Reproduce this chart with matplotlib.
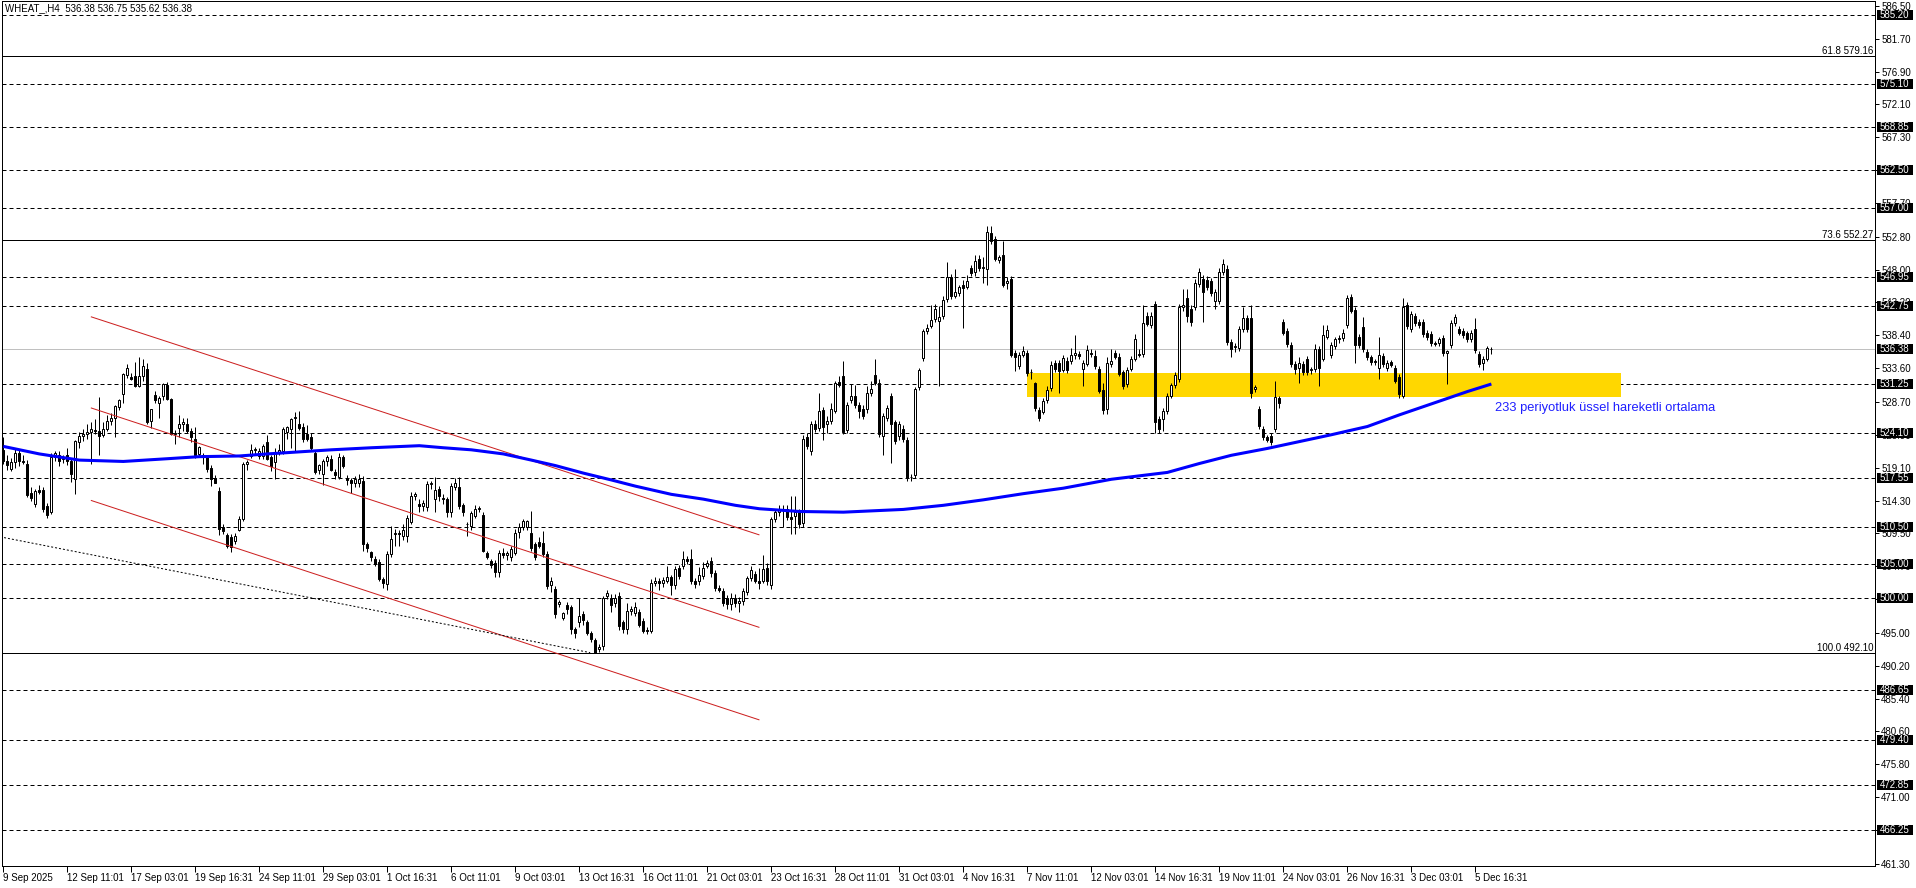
import matplotlib
matplotlib.use("Agg")
import matplotlib.pyplot as plt
import matplotlib.transforms as mtransforms
from matplotlib.patches import Rectangle
import numpy as np

plt.rcParams["font.family"] = ["Liberation Sans", "DejaVu Sans"]

# H4 candles (bar 0 = 9 Sep 2025)
OPENS = [
    521.6, 520.1, 518.9, 519.9, 521.3, 520.1, 519.6, 515.4, 513.8, 515.9,
    515.9, 513.5, 512.6, 520.6, 521.0, 520.3, 521.0, 520.0, 517.4, 522.8,
    523.7, 524.0, 524.3, 524.6, 524.5, 523.9, 524.7, 525.9, 526.4, 527.9,
    529.9, 532.6, 532.3, 532.4, 531.0, 532.4, 533.5, 525.9, 529.7, 528.6,
    529.6, 531.2, 529.1, 524.0, 524.9, 525.5, 525.5, 524.4, 523.3, 521.1,
    521.0, 520.6, 519.1, 517.6, 515.7, 510.4, 509.2, 509.0, 508.4, 510.0,
    511.6, 519.6, 520.8, 521.6, 520.8, 520.8, 522.8, 520.6, 519.9, 521.3,
    521.5, 524.3, 524.8, 526.3, 525.5, 525.0, 524.0, 523.6, 521.2, 518.7,
    518.2, 520.1, 520.3, 518.5, 517.7, 520.6, 517.6, 517.3, 516.9, 516.9,
    517.2, 508.0, 506.8, 505.7, 505.3, 502.8, 502.1, 506.5, 509.4, 509.6,
    509.1, 509.1, 511.1, 515.0, 513.8, 513.5, 513.3, 516.7, 514.5, 516.0,
    514.7, 514.5, 512.6, 516.3, 516.2, 513.6, 510.9, 510.6, 512.1, 513.1,
    512.2, 506.6, 505.4, 505.2, 503.8, 506.7, 506.4, 506.0, 506.7, 509.7,
    510.5, 510.4, 509.6, 507.9, 508.2, 508.1, 506.5, 502.0, 501.4, 499.2,
    497.2, 499.1, 498.7, 495.5, 496.6, 497.7, 496.5, 495.0, 493.9, 492.7,
    493.1, 500.3, 500.1, 499.4, 500.4, 496.5, 495.5, 498.2, 497.9, 498.0,
    496.7, 495.4, 495.3, 502.3, 502.5, 502.3, 502.6, 503.1, 501.9, 504.4,
    504.8, 505.8, 505.7, 502.6, 502.6, 503.3, 504.8, 505.5, 503.7, 501.6,
    501.1, 500.0, 499.2, 500.0, 499.3, 499.6, 501.0, 503.0, 503.6, 502.5,
    502.6, 504.5, 501.9, 511.6, 512.6, 513.1, 513.1, 511.9, 512.1, 512.6,
    511.0, 523.6, 521.5, 525.5, 524.9, 527.5, 525.5, 525.9, 527.4, 531.6,
    532.4, 524.6, 529.0, 529.5, 528.3, 527.6, 527.6, 530.0, 532.6, 531.5,
    523.7, 526.4, 529.5, 525.7, 523.7, 524.8, 523.1, 517.7, 518.0, 530.8,
    535.1, 539.0, 539.8, 540.8, 540.5, 541.2, 543.7, 546.9, 544.1, 544.6,
    545.8, 545.5, 548.2, 547.6, 549.5, 548.2, 548.1, 553.3, 552.4, 549.4,
    550.1, 546.0, 546.6, 535.9, 533.9, 535.6, 535.9, 533.1, 531.5, 527.5,
    527.2, 529.0, 530.7, 534.3, 534.3, 533.4, 534.7, 534.6, 535.5, 535.7,
    533.5, 534.2, 535.9, 535.4, 533.5, 530.5, 527.6, 534.2, 535.8, 535.3,
    533.0, 531.3, 533.5, 535.0, 535.7, 535.7, 541.3, 539.9, 543.0, 526.2,
    526.2, 527.4, 529.6, 531.1, 532.1, 542.5, 543.9, 542.3, 542.5, 545.9,
    546.7, 546.5, 546.4, 543.4, 543.4, 547.6, 548.1, 537.5, 536.7, 536.5,
    539.3, 540.9, 540.9, 530.6, 527.7, 524.8, 523.5, 523.7, 524.7, 529.2,
    540.4, 539.1, 537.0, 534.2, 533.7, 534.2, 535.0, 533.3, 533.5, 536.4,
    535.0, 538.2, 535.5, 536.8, 537.8, 538.0, 539.9, 544.0, 542.1, 538.2,
    539.6, 536.0, 535.2, 534.6, 533.7, 535.4, 533.7, 534.5, 533.7, 532.3,
    529.6, 542.9, 539.3, 541.3, 540.4, 540.4, 538.8, 538.6, 537.3, 537.3,
    538.0, 535.9, 537.0, 540.2, 539.3, 539.1, 538.7, 537.9, 539.3, 535.7,
    534.4, 535.0, 536.38,
]
HIGHS = [
    523.5, 521.0, 520.5, 522.0, 521.8, 521.0, 520.2, 516.2, 516.0, 516.5,
    516.3, 513.9, 521.3, 521.5, 521.5, 521.0, 522.0, 520.4, 523.2, 524.3,
    524.8, 525.5, 525.7, 526.2, 529.4, 525.8, 526.8, 527.0, 528.3, 529.1,
    532.9, 534.2, 532.9, 534.5, 535.2, 535.0, 534.3, 527.6, 530.3, 529.5,
    531.5, 531.6, 529.3, 524.6, 526.8, 526.4, 526.3, 524.9, 525.0, 522.3,
    521.3, 521.0, 519.5, 518.0, 516.3, 510.9, 509.6, 509.4, 509.5, 512.0,
    519.9, 520.2, 522.6, 522.1, 522.0, 522.6, 523.9, 521.0, 522.0, 522.6,
    525.0, 525.2, 526.3, 527.2, 527.3, 525.6, 525.3, 524.2, 521.6, 519.6,
    520.4, 521.0, 521.0, 518.9, 521.3, 521.0, 518.0, 517.6, 517.9, 518.2,
    517.9, 508.3, 507.0, 506.2, 505.8, 503.2, 507.0, 510.6, 510.1, 510.0,
    510.9, 512.2, 515.6, 515.5, 514.5, 514.4, 517.2, 517.2, 517.8, 516.4,
    515.2, 514.8, 516.9, 517.6, 517.7, 514.0, 511.2, 512.8, 513.6, 513.5,
    512.6, 507.0, 505.8, 505.6, 507.1, 507.3, 507.0, 507.6, 510.2, 511.0,
    511.6, 511.5, 512.8, 508.3, 509.0, 509.9, 506.9, 503.2, 501.8, 499.8,
    498.1, 499.5, 499.0, 495.8, 500.0, 498.2, 496.9, 495.3, 494.3, 493.3,
    500.3, 501.2, 500.6, 500.6, 500.9, 496.9, 499.3, 498.9, 499.5, 498.4,
    497.1, 495.8, 502.8, 503.1, 503.0, 503.2, 504.7, 503.5, 504.8, 504.9,
    506.9, 506.2, 507.2, 503.0, 504.6, 505.3, 505.6, 506.0, 504.1, 501.9,
    501.5, 500.5, 500.8, 500.6, 500.2, 501.5, 503.3, 504.8, 504.0, 504.5,
    506.3, 505.2, 511.9, 513.1, 513.6, 513.6, 513.6, 515.0, 514.9, 513.0,
    523.8, 524.1, 525.9, 526.0, 530.0, 527.9, 526.6, 528.6, 531.7, 532.4,
    534.6, 528.7, 531.3, 531.2, 528.7, 528.2, 531.0, 531.7, 534.9, 532.0,
    527.0, 528.2, 530.0, 526.1, 525.9, 525.3, 523.5, 518.1, 530.8, 533.6,
    539.3, 540.0, 542.9, 543.0, 542.7, 544.2, 549.1, 547.3, 548.1, 545.8,
    546.5, 547.2, 548.6, 550.2, 550.1, 549.9, 554.3, 554.4, 552.9, 550.2,
    552.2, 546.9, 547.0, 536.3, 536.0, 536.9, 536.3, 533.5, 531.6, 527.9,
    529.3, 531.0, 534.6, 534.8, 534.8, 535.5, 535.2, 536.6, 538.5, 536.1,
    534.8, 537.0, 536.4, 536.2, 534.0, 531.5, 535.2, 536.4, 536.2, 535.8,
    533.4, 533.8, 535.4, 538.6, 536.4, 542.8, 541.8, 541.8, 543.4, 526.7,
    527.8, 530.0, 531.5, 533.0, 543.0, 545.2, 545.2, 542.8, 546.7, 548.2,
    547.2, 547.0, 546.8, 545.2, 548.2, 549.5, 548.6, 537.9, 537.3, 539.8,
    542.6, 541.4, 542.8, 531.2, 528.1, 525.2, 523.9, 524.1, 531.8, 529.6,
    540.8, 539.5, 537.4, 534.6, 535.3, 534.6, 535.4, 533.8, 537.2, 536.8,
    539.9, 539.9, 537.4, 538.2, 538.4, 539.4, 544.3, 544.4, 542.6, 538.6,
    541.1, 536.4, 535.6, 535.0, 538.1, 535.8, 534.8, 534.8, 534.1, 532.7,
    543.9, 543.3, 541.9, 541.7, 540.8, 540.8, 539.2, 539.0, 537.6, 538.2,
    538.4, 536.3, 540.6, 541.5, 539.7, 539.5, 539.1, 539.2, 541.0, 536.1,
    535.4, 536.9, 536.75,
]
LOWS = [
    519.6, 518.8, 518.6, 519.0, 519.3, 519.6, 514.8, 514.3, 513.3, 515.2,
    512.6, 511.8, 512.3, 520.0, 519.4, 519.8, 519.5, 517.0, 515.3, 522.0,
    523.0, 523.3, 519.6, 524.0, 521.0, 523.5, 524.4, 525.3, 523.6, 527.5,
    528.5, 532.2, 531.9, 530.8, 530.8, 531.8, 525.4, 524.9, 528.6, 526.3,
    529.0, 528.9, 523.8, 522.6, 523.5, 524.5, 524.2, 522.8, 520.5, 520.6,
    519.7, 518.5, 516.4, 516.8, 509.3, 509.4, 507.3, 506.8, 508.0, 509.8,
    511.3, 518.7, 520.5, 520.9, 520.3, 520.4, 520.2, 518.6, 517.5, 521.0,
    521.1, 523.3, 522.0, 521.5, 524.6, 522.8, 523.0, 521.6, 518.2, 518.2,
    516.5, 519.3, 518.6, 517.4, 517.5, 519.0, 516.5, 515.4, 516.3, 516.3,
    507.0, 506.8, 505.4, 504.8, 502.5, 501.6, 501.3, 506.0, 507.7, 507.7,
    508.6, 508.2, 510.8, 514.4, 512.6, 512.8, 512.7, 516.0, 512.6, 514.3,
    513.8, 511.9, 511.9, 515.9, 513.0, 512.0, 509.1, 510.0, 511.8, 512.6,
    506.8, 505.7, 504.4, 503.2, 503.2, 505.9, 505.6, 505.4, 506.3, 508.9,
    510.0, 510.0, 507.0, 505.6, 507.3, 506.0, 501.4, 501.0, 497.1, 498.7,
    496.8, 497.8, 494.8, 494.3, 495.8, 496.2, 494.6, 493.6, 492.1, 492.2,
    492.5, 499.9, 498.1, 498.8, 495.4, 495.0, 494.8, 497.6, 497.4, 495.8,
    494.9, 494.8, 494.9, 501.8, 501.3, 501.7, 502.2, 500.5, 501.4, 502.8,
    504.3, 505.0, 502.1, 501.6, 502.0, 502.8, 504.4, 503.2, 501.1, 500.9,
    498.9, 498.5, 498.3, 498.8, 498.0, 499.1, 500.5, 502.6, 502.2, 501.4,
    502.2, 502.0, 501.4, 511.2, 512.1, 510.4, 511.4, 509.4, 509.4, 510.3,
    510.5, 521.8, 521.0, 524.3, 524.5, 523.2, 524.1, 525.5, 527.0, 530.8,
    524.0, 524.2, 528.6, 527.8, 526.4, 526.2, 527.1, 529.6, 531.1, 523.5,
    521.0, 525.9, 519.8, 522.5, 523.2, 522.9, 517.2, 517.2, 517.6, 530.5,
    534.6, 538.6, 539.5, 540.4, 531.0, 540.8, 543.3, 543.7, 543.8, 544.2,
    539.5, 545.1, 547.0, 547.1, 547.8, 546.0, 545.8, 551.7, 549.2, 549.0,
    545.4, 545.1, 535.2, 533.2, 533.5, 535.3, 532.5, 532.1, 527.3, 525.9,
    526.9, 528.6, 530.3, 533.0, 530.0, 533.0, 532.9, 534.2, 535.0, 535.0,
    531.0, 533.9, 535.3, 533.5, 530.0, 526.9, 526.9, 533.8, 535.0, 532.4,
    530.6, 530.9, 533.2, 534.6, 535.2, 535.3, 539.7, 539.5, 524.1, 524.1,
    524.5, 526.9, 529.2, 530.7, 531.6, 542.0, 540.3, 539.8, 542.1, 545.5,
    540.3, 545.0, 544.1, 542.3, 543.0, 547.2, 537.0, 535.2, 536.0, 536.1,
    538.9, 538.9, 529.3, 530.2, 524.7, 523.1, 522.9, 522.4, 524.3, 527.8,
    538.5, 536.7, 533.8, 532.8, 531.5, 532.6, 532.6, 532.8, 533.1, 531.0,
    534.6, 537.8, 535.1, 536.4, 537.3, 537.6, 539.5, 541.6, 534.3, 536.6,
    536.0, 534.8, 534.1, 534.1, 532.0, 533.8, 533.2, 533.8, 531.4, 529.2,
    529.2, 539.4, 538.9, 539.8, 539.5, 538.2, 537.7, 536.9, 536.8, 536.9,
    535.4, 531.3, 536.6, 539.8, 538.4, 538.0, 537.5, 537.5, 535.9, 533.8,
    533.4, 534.6, 535.62,
]
CLOSES = [
    520.1, 519.5, 519.9, 521.3, 520.1, 519.9, 515.1, 514.7, 515.7, 515.5,
    513.0, 512.2, 520.6, 521.2, 520.1, 520.6, 520.0, 518.1, 523.0, 523.7,
    524.0, 524.3, 524.7, 524.5, 523.7, 524.7, 525.9, 526.4, 528.1, 529.0,
    532.7, 533.7, 532.0, 531.0, 532.5, 533.9, 525.7, 527.6, 528.9, 529.3,
    531.3, 529.1, 524.0, 524.2, 525.5, 525.8, 524.4, 523.5, 520.9, 522.1,
    520.6, 518.9, 517.4, 516.9, 510.2, 509.9, 507.7, 507.5, 509.1, 511.6,
    519.6, 519.9, 521.7, 521.8, 521.5, 522.3, 520.4, 519.4, 521.3, 521.6,
    524.7, 525.0, 526.2, 526.5, 524.9, 523.3, 523.3, 522.0, 518.5, 519.5,
    520.1, 520.6, 518.7, 518.0, 520.6, 519.4, 517.3, 516.8, 517.4, 517.5,
    508.0, 507.3, 506.1, 505.1, 502.8, 502.3, 506.5, 508.7, 509.6, 509.4,
    510.0, 511.8, 515.0, 515.2, 513.5, 513.9, 516.7, 516.9, 515.9, 514.9,
    514.5, 512.6, 516.4, 516.9, 513.5, 512.6, 510.8, 512.5, 513.1, 513.2,
    507.0, 506.1, 504.9, 503.8, 506.7, 506.4, 506.6, 507.2, 509.6, 510.5,
    511.3, 511.3, 507.4, 506.1, 507.7, 506.5, 501.8, 502.5, 497.7, 499.5,
    497.9, 498.4, 495.5, 495.0, 497.5, 496.8, 495.0, 494.1, 492.0, 492.9,
    500.1, 500.8, 499.0, 500.1, 496.0, 495.5, 498.2, 498.5, 498.7, 496.2,
    495.3, 495.2, 502.3, 502.5, 502.3, 502.7, 503.1, 502.0, 504.3, 503.3,
    505.8, 505.5, 502.6, 502.1, 503.4, 504.5, 505.2, 503.7, 501.6, 501.3,
    499.4, 499.2, 500.1, 499.4, 499.6, 501.1, 503.0, 504.1, 502.6, 502.3,
    504.3, 502.6, 511.6, 512.6, 513.1, 513.0, 511.9, 511.6, 512.6, 510.9,
    523.3, 522.3, 525.4, 524.7, 527.3, 525.1, 525.9, 527.6, 531.4, 531.1,
    524.3, 528.3, 529.6, 528.3, 527.3, 526.6, 530.0, 530.6, 531.5, 524.0,
    526.6, 527.8, 525.5, 523.0, 525.4, 523.3, 517.6, 517.8, 530.6, 533.3,
    539.0, 539.5, 540.6, 542.2, 541.1, 543.6, 546.9, 544.2, 544.7, 545.4,
    545.3, 546.4, 547.5, 549.2, 548.2, 548.4, 553.5, 552.2, 549.6, 549.8,
    545.8, 546.3, 535.6, 535.3, 535.6, 536.1, 532.9, 533.0, 527.8, 526.4,
    528.8, 530.5, 534.1, 533.5, 533.2, 535.1, 533.3, 535.6, 535.8, 535.4,
    534.3, 536.3, 535.7, 533.9, 530.3, 527.5, 534.3, 534.7, 535.3, 532.8,
    531.0, 533.4, 535.0, 537.9, 535.6, 540.2, 540.0, 541.3, 525.8, 524.7,
    527.4, 529.6, 531.1, 532.6, 542.6, 542.8, 541.3, 540.3, 546.1, 547.6,
    544.7, 545.4, 544.6, 544.7, 547.7, 548.8, 537.5, 536.4, 536.8, 539.3,
    541.0, 539.3, 530.0, 530.8, 525.2, 523.5, 523.2, 522.8, 529.4, 528.6,
    538.8, 537.1, 534.2, 533.5, 534.3, 533.0, 533.0, 533.5, 536.4, 533.6,
    538.4, 539.2, 537.0, 537.8, 538.0, 538.7, 543.9, 542.0, 537.0, 537.0,
    536.4, 535.2, 534.5, 534.5, 535.5, 534.2, 534.4, 534.1, 531.8, 529.8,
    542.6, 539.8, 541.5, 540.2, 539.9, 538.6, 538.1, 537.3, 537.1, 537.8,
    535.8, 536.1, 540.2, 541.1, 538.8, 538.4, 537.9, 538.8, 536.3, 534.2,
    535.0, 536.5, 536.38,
]

# 233-period EMA, read at points along the blue line (bar index, price)
EMA_BARS = [0, 9, 19, 30, 41, 49, 59, 66, 74, 82, 92, 104, 110, 117, 125,
            132, 138, 145, 152, 158, 167, 175, 183, 189, 199, 210, 225, 235,
            245, 255, 265, 277, 291, 299, 307, 316, 324, 332, 341, 349, 357,
            366, 372]
EMA_VALUES = [522.2, 521.1, 520.2, 520.0, 520.4, 520.7, 520.8, 521.1, 521.4,
              521.7, 522.0, 522.3, 522.0, 521.7, 521.1, 520.2, 519.4, 518.3,
              517.3, 516.4, 515.2, 514.5, 513.6, 513.1, 512.7, 512.6, 513.0,
              513.6, 514.4, 515.3, 516.1, 517.4, 518.4, 519.7, 520.9, 521.9,
              522.9, 523.9, 525.1, 526.8, 528.4, 530.2, 531.3]

DASHED_LEVELS = [585.20, 575.10, 568.85, 562.50, 557.00, 546.95, 542.75,
                 531.25, 524.10, 517.55, 510.50, 505.00, 500.00, 486.65,
                 479.40, 472.85, 466.25]
FIB_RATIOS = ["61.8", "73.6", "100.0"]
FIB_PRICES = [579.16, 552.27, 492.10]
LAST_PRICE = 536.38

Y_TICKS = [586.50, 581.70, 576.90, 572.10, 567.30, 562.50, 557.70, 552.80,
           548.00, 543.20, 538.40, 533.60, 528.70, 523.90, 519.10, 514.30,
           509.50, 504.70, 499.90, 495.00, 490.20, 485.40, 480.60, 475.80,
           471.00, 466.20, 461.30]
X_LABELS = ["9 Sep 2025", "12 Sep 11:01", "17 Sep 03:01", "19 Sep 16:31",
            "24 Sep 11:01", "29 Sep 03:01", "1 Oct 16:31", "6 Oct 11:01",
            "9 Oct 03:01", "13 Oct 16:31", "16 Oct 11:01", "21 Oct 03:01",
            "23 Oct 16:31", "28 Oct 11:01", "31 Oct 03:01", "4 Nov 16:31",
            "7 Nov 11:01", "12 Nov 03:01", "14 Nov 16:31", "19 Nov 11:01",
            "24 Nov 03:01", "26 Nov 16:31", "3 Dec 03:01", "5 Dec 16:31"]
BARS_PER_LABEL = 16

# descending channel (bar index, price at start/end)
CHANNEL_BARS = [22.0, 188.9]
CHANNEL_UPPER = [541.1, 509.3]
CHANNEL_MIDDLE = [527.8, 495.8]
CHANNEL_LOWER = [514.3, 482.3]
# thin dotted trend line
TREND_BARS = [-0.8, 146.7]
TREND_PRICES = [509.0, 492.1]
# yellow support zone
ZONE_BARS = [256.0, 404.5]
ZONE_PRICES = [529.45, 532.87]
EMA_NOTE = "233 periyotluk üssel hareketli ortalama"
EMA_NOTE_POS = (373.0, 527.8)
TITLE = "WHEAT_,H4  536.38 536.75 535.62 536.38"

W, H = 1916, 888
fig = plt.figure(figsize=(W / 100, H / 100), dpi=100)
fig.patch.set_facecolor("white")
ax = fig.add_axes([2 / W, 22 / H, 1873 / W, 865 / H])
ax.set_xlim(-0.33, 467.9)
ax.set_ylim(460.96, 587.2)
px_per_price = 865 / (587.2 - 460.96)

px = 0.72  # one pixel in points
for lv in DASHED_LEVELS:
    ax.axhline(lv, color="black", lw=px, dashes=(4, 3), zorder=1)
for fp in FIB_PRICES:
    ax.axhline(fp, color="black", lw=px, zorder=1)
ax.axhline(LAST_PRICE, color="#c0c0c0", lw=px, zorder=1)

ax.fill_between(ZONE_BARS, ZONE_PRICES[0], ZONE_PRICES[1], color="#ffd700",
                lw=0, zorder=1.5)

o = np.array(OPENS)
h = np.array(HIGHS)
l = np.array(LOWS)
c = np.array(CLOSES)
x = np.arange(len(o))
top = np.maximum(o, c)
bot = np.minimum(o, c)
ax.vlines(x, np.minimum(l, bot), np.maximum(h, top), color="black",
          lw=px, zorder=3)
up = c >= o
body = np.maximum(top - bot, 0.08)
ax.bar(x[up], body[up], bottom=bot[up], width=0.5, facecolor="white",
       edgecolor="black", lw=px, zorder=4)
ax.bar(x[~up], body[~up], bottom=bot[~up], width=0.5, facecolor="black",
       edgecolor="black", lw=px, zorder=4)

for ch in (CHANNEL_UPPER, CHANNEL_MIDDLE, CHANNEL_LOWER):
    ax.plot(CHANNEL_BARS, ch, color="#cc1f1f", lw=px, zorder=5)
ax.plot(TREND_BARS, TREND_PRICES, color="black", lw=px, dashes=(2, 2),
        zorder=5)
ax.plot(EMA_BARS, EMA_VALUES, color="#0000ff", lw=2.2, zorder=6,
        solid_capstyle="butt")

ax.text(EMA_NOTE_POS[0], EMA_NOTE_POS[1], EMA_NOTE, color="#1f1fff",
        fontsize=9.3, ha="left", va="center", zorder=7)

# fibo labels at right edge
for ratio, fp in zip(FIB_RATIOS, FIB_PRICES):
    ax.text(467.5, fp, f"{ratio} {fp:.2f}", fontsize=7, ha="right",
            va="bottom", color="black", zorder=7)

# frame / axes
for sp in ax.spines.values():
    sp.set_color("black")
    sp.set_linewidth(px)
ax.yaxis.tick_right()
ax.set_yticks(Y_TICKS)
ax.set_yticklabels([f"{v:.2f}" for v in Y_TICKS])
ax.tick_params(axis="y", direction="out", length=3, width=px, pad=1.5,
               labelsize=7, colors="black", right=True, left=False)
xt = np.arange(len(X_LABELS)) * BARS_PER_LABEL
ax.set_xticks(xt)
ax.set_xticklabels(X_LABELS)
for lbl in ax.get_xticklabels():
    lbl.set_horizontalalignment("left")
ax.tick_params(axis="x", direction="out", length=4, width=px, pad=1,
               labelsize=7, colors="black")

# boxed price labels on the right scale
trans = mtransforms.blended_transform_factory(ax.transAxes, ax.transData)
box_h = 10 / px_per_price
for lv in DASHED_LEVELS + [LAST_PRICE]:
    ax.add_patch(Rectangle((1.0 + 2 / 1873, lv - box_h / 2), 36 / 1873, box_h,
                           transform=trans, facecolor="black", lw=0,
                           clip_on=False, zorder=9))
    ax.text(1.0 + 4.5 / 1873, lv, f"{lv:.2f}", transform=trans, fontsize=7,
            color="white", ha="left", va="center", clip_on=False, zorder=10)

fig.text(5 / W, 1 - 3 / H, TITLE, fontsize=7, ha="left", va="top",
         color="black")

fig.savefig("out.png", dpi=100, facecolor="white")
